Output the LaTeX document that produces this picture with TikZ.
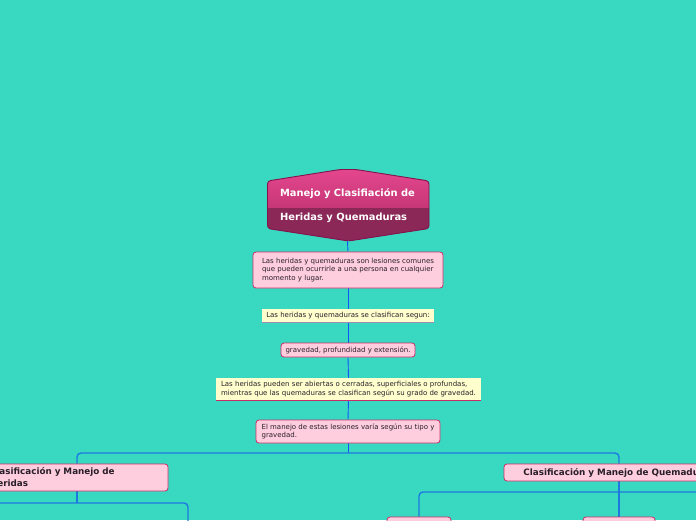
\documentclass[tikz,border=0pt]{standalone}
\usepackage{fontspec}
\setmainfont{DejaVu Sans}
\usetikzlibrary{backgrounds}
\definecolor{bg}{RGB}{57,217,193}
\definecolor{pinkfill}{RGB}{255,206,222}
\definecolor{pinkborder}{RGB}{204,45,105}
\definecolor{yellowfill}{RGB}{255,255,206}
\definecolor{txt}{RGB}{40,30,40}
\definecolor{linea}{RGB}{20,85,250}
\definecolor{lineb}{RGB}{30,120,225}
\definecolor{hextop}{RGB}{232,72,145}
\definecolor{hexmid}{RGB}{198,55,118}
\definecolor{hexbot}{RGB}{140,40,88}
\definecolor{hexborder}{RGB}{130,20,75}
\begin{document}
\begin{tikzpicture}[x=1pt,y=-1pt,
  bodytext/.style={font=\fontsize{7}{8.7}\selectfont, text=txt, align=left},
  pinkbox/.style={bodytext, draw=pinkborder, fill=pinkfill, line width=0.8pt, rounded corners=3pt, inner sep=0pt},
  yellowbox/.style={bodytext, fill=yellowfill, inner sep=0pt},
  headbox/.style={draw=pinkborder, fill=pinkfill, line width=0.8pt, rounded corners=3pt, inner sep=0pt,
    font=\bfseries\fontsize{8.8}{12}\selectfont, text=txt},
  thinline/.style={draw=linea, line width=0.9pt},
  thickline/.style={draw=lineb, line width=1.4pt, rounded corners=4pt}]
\clip (0,0) rectangle (696,520);
% hexagon title
\node[minimum width=161pt, minimum height=71pt, inner sep=0pt, align=left,
  font=\bfseries\fontsize{9.9}{24}\selectfont, text=white] (title) at (347.5,205.5)
  {Manejo y Clasifiación de\\Heridas y Quemaduras};
% text boxes
\node[pinkbox, minimum width=190pt, minimum height=36pt] (n1) at (348,270)
  {Las heridas y quemaduras son lesiones comunes\\que pueden ocurrirle a una persona en cualquier\\momento y lugar.};
\node[yellowbox, minimum width=172pt, minimum height=13pt] (n2) at (348,315.5)
  {Las heridas y quemaduras se clasifican segun:};
\node[pinkbox, minimum width=134pt, minimum height=14pt] (n3) at (348,350)
  {gravedad, profundidad y extensión.};
\node[yellowbox, minimum width=265pt, minimum height=22pt] (n4) at (348.5,389)
  {Las heridas pueden ser abiertas o cerradas, superficiales o profundas,\\mientras que las quemaduras se clasifican según su grado de gravedad.};
\node[pinkbox, minimum width=184pt, minimum height=23pt] (n5) at (348,431.5)
  {El manejo de estas lesiones varía según su tipo y\\gravedad.};
\node[headbox, align=left, text width=174pt, inner xsep=4pt, minimum height=27pt] (L) at (77,477.5)
  {Clasificación y Manejo de\\Heridas};
\node[headbox, align=center, minimum width=230pt, minimum height=17pt] (R) at (619,472.5)
  {Clasificación y Manejo de Quemaduras};
\node[pinkbox, minimum width=64pt, minimum height=26pt] (b1) at (419,530) {};
\node[pinkbox, minimum width=72pt, minimum height=26pt] (b2) at (619,530) {};
\draw[draw={rgb,255:red,160;green,140;blue,180}, line width=0.8pt] (n2.south west) -- (n2.south east);
\draw[draw=pinkborder, line width=0.8pt] (n4.south west) -- (n4.south east);
\coordinate (j) at (348,453);
\coordinate (lj) at (77,503);
\coordinate (lfar) at (-20,503);
\coordinate (ldown) at (188,540);
\coordinate (rfar) at (720,492);
\begin{scope}[on background layer]
\fill[bg] (0,0) rectangle (696,520);
% hexagon shape
\begin{scope}
\clip[rounded corners=3pt] (267.5,181) -- (340,169.5) -- (356,169.5) -- (429,181) -- (429,228.5) -- (348.5,241) -- (267.5,228.5) -- cycle;
\shade[top color=hextop, bottom color=hexmid] (260,165) rectangle (440,208);
\fill[hexbot] (260,208) rectangle (440,245);
\end{scope}
\draw[hexborder, line width=0.9pt, rounded corners=3pt] (267.5,181) -- (340,169.5) -- (356,169.5) -- (429,181) -- (429,228.5) -- (348.5,241) -- (267.5,228.5) -- cycle;
% connectors
\draw[thinline] (title.south) -- (n1.north);
\draw[thinline] (n1.south) -- (n2.north);
\draw[thinline] (n2.south) -- (n3.north);
\draw[thinline] (n3.south) -- (n4.north);
\draw[thinline] (n4.south) -- (n5.north);
\draw[thinline] (n5.south) -- (j);
\draw[thickline] (L.north) |- (j) -| (R.north);
\draw[thickline] (L.south) -- (lj);
\draw[thickline] (lfar) -- (lj) -| (ldown);
\draw[thickline] (R.south) -- (b2.north);
\draw[thickline] (b1.north) |- (rfar);
\end{scope}
\end{tikzpicture}
\end{document}
